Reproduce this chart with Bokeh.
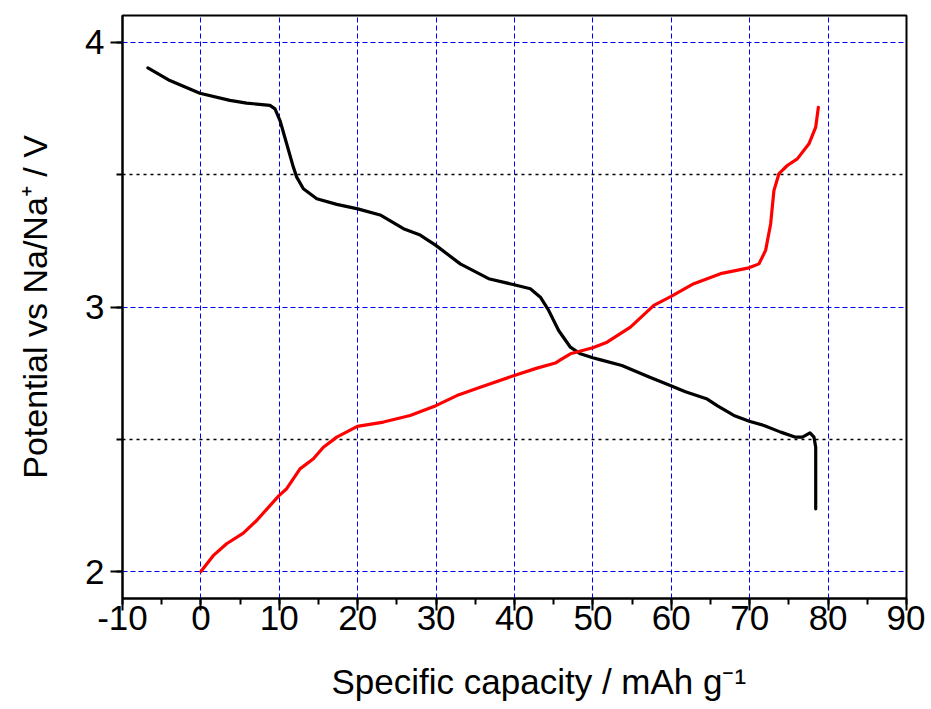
from bokeh.plotting import figure
from bokeh.models import Range1d, SingleIntervalTicker, PrintfTickFormatter
from bokeh.embed import file_html
from bokeh.resources import INLINE

# ---- data ----
discharge_capacity = [-6.76, -3.96, -0.13, 3.70, 5.84, 8.81, 9.45, 10.09, 10.94, 11.79,
                      12.22, 13.07, 14.78, 17.33, 20.01, 22.86, 25.84, 27.97, 29.97, 33.08,
                      36.70, 39.97, 42.02, 43.30, 44.36, 45.63, 47.13, 48.40, 49.98, 51.0,
                      53.7, 57.1, 59.95, 61.8, 64.58, 65.9, 67.98, 69.94, 71.82, 73.95,
                      75.86, 76.72, 77.69, 78.20, 78.42, 78.42]
discharge_potential = [3.904, 3.856, 3.808, 3.781, 3.771, 3.762, 3.749, 3.705, 3.617, 3.529,
                       3.491, 3.447, 3.409, 3.388, 3.371, 3.348, 3.296, 3.272, 3.233, 3.163,
                       3.107, 3.084, 3.069, 3.037, 2.987, 2.911, 2.848, 2.823, 2.808, 2.800,
                       2.779, 2.736, 2.702, 2.680, 2.652, 2.626, 2.590, 2.568, 2.552, 2.527,
                       2.508, 2.508, 2.524, 2.508, 2.470, 2.237]

charge_capacity = [0.00, 1.57, 3.28, 5.41, 7.11, 9.96, 10.94, 12.64, 14.35, 15.62,
                   17.33, 19.96, 23.28, 26.69, 29.97, 32.65, 35.63, 39.97, 42.87, 45.21,
                   45.85, 47.13, 49.98, 51.81, 54.79, 57.77, 59.98, 62.87, 66.28, 69.90,
                   71.18, 72.03, 72.67, 73.09, 73.73, 74.80, 76.07, 77.56, 78.42, 78.76]
charge_potential = [2.000, 2.060, 2.105, 2.145, 2.193, 2.287, 2.313, 2.388, 2.426, 2.470,
                    2.508, 2.549, 2.565, 2.590, 2.627, 2.665, 2.697, 2.741, 2.769, 2.788,
                    2.800, 2.823, 2.846, 2.867, 2.924, 3.006, 3.040, 3.088, 3.126, 3.148,
                    3.163, 3.214, 3.314, 3.440, 3.504, 3.535, 3.560, 3.617, 3.680, 3.755]

half_volt_lines = [2.5, 3.5]

X_MIN, X_MAX = -10, 90
Y_MIN, Y_MAX = 1.898, 4.102

FONT = "Liberation Sans"
NBSP = "\u00a0"

p = figure(width=925, height=705, output_backend="svg", toolbar_location=None,
           x_range=Range1d(X_MIN, X_MAX), y_range=Range1d(Y_MIN, Y_MAX),
           min_border_left=122, min_border_right=19, min_border_top=15,
           min_border_bottom=107)
p.background_fill_color = "white"
p.border_fill_color = "white"
p.outline_line_color = "black"
p.outline_line_width = 2
p.outline_line_alpha = 1.0

xt = SingleIntervalTicker(interval=10, num_minor_ticks=2)
yt = SingleIntervalTicker(interval=1, num_minor_ticks=2)
p.xaxis.ticker = xt
p.yaxis.ticker = yt
p.xgrid.ticker = xt
p.ygrid.ticker = yt
p.xaxis.formatter = PrintfTickFormatter(format="%d")
p.yaxis.formatter = PrintfTickFormatter(format="%d")

for ax in (p.xaxis[0], p.yaxis[0]):
    ax.axis_line_width = 2
    ax.axis_line_color = "black"
    ax.major_tick_line_width = 2
    ax.minor_tick_line_width = 2
    ax.major_tick_line_color = "black"
    ax.minor_tick_line_color = "black"
    ax.major_tick_in = 0
    ax.major_tick_out = 12
    ax.minor_tick_in = 0
    ax.minor_tick_out = 6
    ax.major_label_text_font = FONT
    ax.major_label_text_font_size = "35px"
    ax.major_label_text_color = "black"
    ax.axis_label_text_font = FONT
    ax.axis_label_text_font_style = "normal"
    ax.axis_label_text_color = "black"

p.xaxis.major_label_standoff = -5
p.yaxis.major_label_standoff = 6

p.xaxis.axis_label = NBSP * 5 + "Specific capacity / mAh g\u207b\u00b9"
p.xaxis.axis_label_text_font_size = "35px"
p.xaxis.axis_label_standoff = 29
p.yaxis.axis_label = "Potential vs Na/Na\u207a / V"
p.yaxis.axis_label_text_font_size = "34px"
p.yaxis.axis_label_standoff = 28

p.xgrid.grid_line_color = "#0000FF"
p.xgrid.grid_line_dash = "5 3"
p.xgrid.grid_line_width = 1
p.ygrid.grid_line_color = "#0000FF"
p.ygrid.grid_line_dash = "5 3"
p.ygrid.grid_line_width = 1

# black dotted lines at the half-volt levels
p.hspan(y=half_volt_lines, line_color="black", line_dash="3 4", line_width=1.5)

p.line(discharge_capacity, discharge_potential, line_color="black", line_width=3.2,
       line_join="round", line_cap="round")
p.line(charge_capacity, charge_potential, line_color="#FF0000", line_width=3.2,
       line_join="round", line_cap="round")

open("out.html", "w").write(file_html(p, INLINE))
